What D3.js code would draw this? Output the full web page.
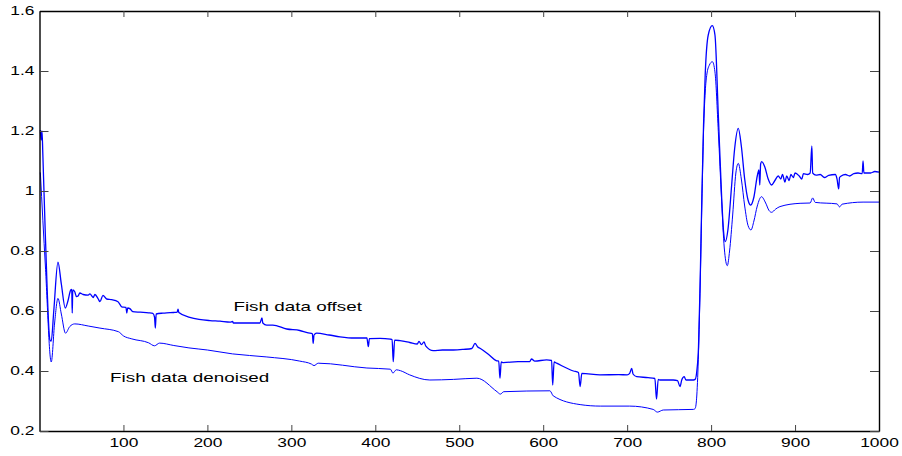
<!DOCTYPE html>
<html>
<head>
<meta charset="utf-8">
<script src="https://cdn.jsdelivr.net/npm/d3@7"></script>
<style>
body { margin: 0; background: #fff; }
svg text { font-family: "Liberation Sans", Arial, sans-serif; fill: #000; }
</style>
</head>
<body>
<script>
// tick values / labels
var x_ticks = [100, 200, 300, 400, 500, 600, 700, 800, 900, 1000];
var y_ticks = [0.2, 0.4, 0.6, 0.8, 1.0, 1.2, 1.4, 1.6];
var y_tick_labels = ["0.2", "0.4", "0.6", "0.8", "1", "1.2", "1.4", "1.6"];

// [sample index, value]
var fish_offset = [
    [1,1.203],[2,1.17],[3,1.2],[4,1.12],[7,0.85],[12.5,0.503],[14,0.5],[17,0.6],
    [22,0.763],[26,0.69],[30.7,0.61],[34,0.635],[37.2,0.67],[38.4,0.672],[39,0.593],
    [39.6,0.67],[42,0.664],[44,0.648],[46,0.65],[48,0.66],[52,0.655],[58,0.653],
    [60,0.657],[64,0.645],[66,0.655],[70,0.64],[72,0.631],[75.6,0.652],[80,0.64],
    [86,0.638],[93.5,0.631],[98,0.614],[103,0.612],[104,0.593],[105,0.61],[108,0.607],
    [111,0.598],[120,0.596],[130,0.594],[135,0.592],[137,0.58],[138,0.543],[139,0.59],
    [147,0.593],[151.5,0.594],[160,0.595],[164,0.596],[165,0.606],[166,0.595],
    [179,0.579],[190,0.572],[203,0.568],[215,0.566],[227,0.563],[230,0.565],[231,0.56],
    [262.6,0.56],[265,0.577],[266,0.56],[270.6,0.553],[278,0.553],[294.5,0.54],
    [310,0.535],[320,0.527],[325,0.525],[326,0.492],[327,0.52],[330,0.526],[345,0.52],
    [358,0.514],[375,0.51],[390,0.51],[391.7,0.481],[393,0.508],[405.6,0.509],
    [418,0.506],[420,0.505],[421.4,0.431],[423,0.503],[429.4,0.501],[441,0.495],
    [450,0.49],[452,0.499],[455,0.488],[458,0.497],[460,0.484],[469,0.468],[480,0.47],
    [493,0.47],[505,0.472],[515,0.475],[518.8,0.492],[522,0.48],[524.7,0.476],
    [535,0.455],[544.6,0.434],[547,0.433],[548.5,0.376],[550,0.43],[552.5,0.428],
    [570,0.431],[584,0.431],[586,0.44],[590,0.433],[604,0.437],[610,0.435],
    [611.3,0.353],[613,0.43],[616,0.426],[636,0.4],[642,0.395],[644,0.348],[646,0.392],
    [667.6,0.387],[690,0.388],[700,0.387],[703,0.392],[705.4,0.409],[707,0.39],
    [711.4,0.381],[725,0.378],[733,0.375],[735,0.306],[737,0.372],[739,0.37],
    [755,0.37],[760,0.368],[763,0.348],[765,0.37],[768,0.381],[770,0.37],[779,0.37],
    [781,0.372],[783,0.4],[785,0.48],[787,0.7],[789,0.98],[791,1.22],[793,1.39],
    [796.6,1.52],[801.4,1.551],[804.6,1.52],[808.6,1.253],[812.6,0.977],[815,0.86],
    [817,0.831],[820,0.87],[824.5,1.02],[828,1.14],[832.4,1.209],[836,1.15],[840,1.04],
    [844,0.97],[847.2,0.953],[851,0.98],[855,1.05],[857,1.07],[858,1.02],[859,1.09],
    [860.3,1.098],[864,1.08],[868,1.04],[872,1.02],[876,1.035],[880,1.05],[883,1.04],
    [885,1.055],[888,1.03],[890,1.05],[893,1.035],[895,1.055],[898,1.045],[900,1.06],
    [905,1.05],[908,1.04],[910,1.058],[915,1.055],[918,1.06],[920,1.15],[921,1.06],
    [925,1.053],[930,1.055],[935,1.045],[940,1.052],[948,1.055],[950,1.04],
    [952,1.007],[953,1.045],[955,1.05],[960,1.055],[965,1.05],[970,1.058],[975,1.06],
    [980,1.058],[981,1.1],[982,1.06],[990,1.06],[995,1.065],[1000,1.063]
];

var fish_denoised = [
    [1,1.062],[7,0.75],[14,0.43],[18,0.56],[22,0.642],[26,0.59],[31,0.526],[36,0.548],
    [42,0.557],[58,0.55],[72,0.543],[94,0.531],[100,0.517],[110,0.507],[130,0.494],
    [137,0.484],[143,0.493],[160,0.485],[178,0.477],[200,0.47],[230,0.457],[270,0.447],
    [310,0.433],[324,0.423],[327,0.418],[332,0.426],[390,0.41],[418,0.406],[421,0.393],
    [425,0.404],[430,0.401],[441,0.387],[465,0.37],[493,0.372],[521,0.376],[545,0.331],
    [549,0.323],[553,0.331],[608,0.334],[612,0.317],[644,0.288],[668,0.283],[703,0.283],
    [731,0.272],[736,0.263],[743,0.27],[779,0.272],[781,0.275],[783,0.32],[785,0.46],
    [787,0.69],[789,0.96],[791,1.2],[793,1.33],[795,1.39],[798,1.42],[801.5,1.431],
    [804.6,1.397],[808.6,1.198],[812.6,0.964],[815.7,0.81],[819.3,0.751],[822,0.8],
    [825.7,0.92],[829.5,1.06],[832.4,1.092],[836,1.04],[840,0.95],[844,0.885],
    [847.5,0.87],[851,0.9],[855,0.95],[860,0.981],[865,0.96],[869,0.935],[872,0.929],
    [877,0.94],[882,0.948],[906,0.959],[918,0.96],[921,0.977],[924,0.962],[950,0.957],
    [953,0.947],[956,0.956],[981,0.963],[1000,0.963]
];

var annotations = [
    {text: "Fish data offset", x: 231, y: 0.6},
    {text: "Fish data denoised", x: 84, y: 0.363}
];

var text_stretch = 1.45;  // labels in the picture are stretched sideways

function draw_chart(objid, width, height) {
    var margin = {top: 11, right: 23, bottom: 25, left: 39.5};

    var svg = d3.select('body').append('svg')
        .attr('width', width)
        .attr('height', height)
        .attr("id", objid);

    var xScale = d3.scaleLinear().domain([0, 1000]).range([margin.left, width - margin.right]);
    var yScale = d3.scaleLinear().domain([0.2, 1.6]).range([height - margin.bottom, margin.top]);

    var line = d3.line()
        .x(function (d) { return xScale(d[0]); })
        .y(function (d) { return yScale(d[1]); })
        .curve(d3.curveMonotoneX);

    svg.append('path').datum(fish_denoised)
        .attr('d', line)
        .attr('fill', 'none')
        .attr('stroke', '#0000ff')
        .attr('stroke-width', 1);

    svg.append('path').datum(fish_offset)
        .attr('d', line)
        .attr('fill', 'none')
        .attr('stroke', '#0000ff')
        .attr('stroke-width', 1.3)
        .attr('stroke-linejoin', 'round');

    // box with inward ticks on all four sides
    var bottom = svg.append('g')
        .attr('transform', 'translate(0,' + (height - margin.bottom) + ')')
        .call(d3.axisBottom(xScale).tickValues(x_ticks).tickSize(-6).tickSizeOuter(0).tickPadding(7)
            .tickFormat(d3.format('d')));
    var left = svg.append('g')
        .attr('transform', 'translate(' + margin.left + ',0)')
        .call(d3.axisLeft(yScale).tickValues(y_ticks).tickSize(-9).tickSizeOuter(0).tickPadding(5)
            .tickFormat(function (d, i) { return y_tick_labels[i]; }));
    var top = svg.append('g')
        .attr('transform', 'translate(0,' + margin.top + ')')
        .call(d3.axisTop(xScale).tickValues(x_ticks).tickSize(-6).tickSizeOuter(0).tickFormat(''));
    var right = svg.append('g')
        .attr('transform', 'translate(' + (width - margin.right) + ',0)')
        .call(d3.axisRight(yScale).tickValues(y_ticks).tickSize(-9).tickSizeOuter(0).tickFormat(''));

    [bottom, left, top, right].forEach(function (g) {
        g.select('.domain').attr('stroke', '#000').attr('stroke-width', 1.4);
        g.selectAll('.tick line').attr('stroke', '#444').attr('stroke-width', 1);
        g.selectAll('.tick text')
            .attr('font-size', 12)
            .attr('font-family', '"Liberation Sans", Arial, sans-serif')
            .attr('fill', '#000');
    });
    bottom.selectAll('.tick text').attr('transform', 'scale(' + text_stretch + ',1)');
    left.selectAll('.tick text')
        .attr('x', -5 / text_stretch)
        .attr('transform', 'scale(' + text_stretch + ',1)');

    svg.selectAll('text.annot')
        .data(annotations)
        .enter()
        .append('text')
        .attr('class', 'annot')
        .attr('font-size', 13)
        .attr('transform', function (d) {
            return 'translate(' + xScale(d.x) + ',' + yScale(d.y) + ') scale(' + text_stretch + ',1)';
        })
        .text(function (d) { return d.text; });

    return svg;
}

draw_chart('fish', 902, 456);
</script>
</body>
</html>
